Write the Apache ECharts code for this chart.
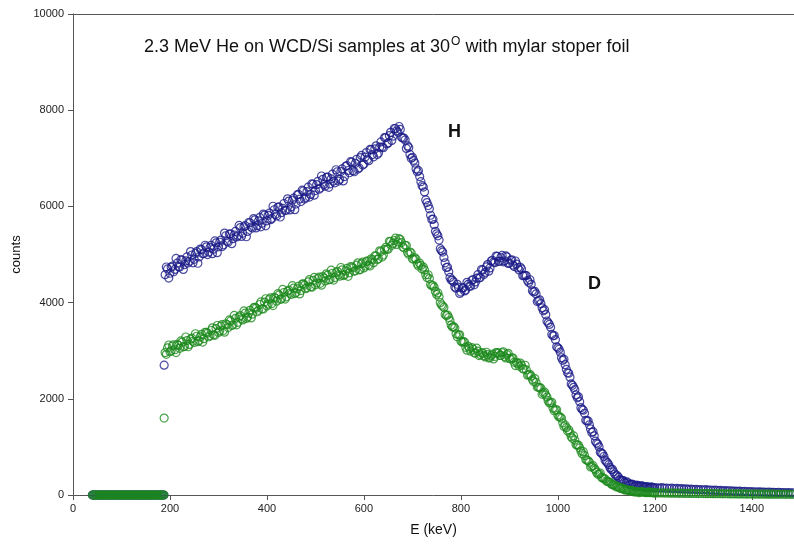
<!DOCTYPE html>
<html>
<head>
<meta charset="utf-8">
<script src="https://cdn.jsdelivr.net/npm/echarts@6/dist/echarts.min.js"></script>
<style>
  html, body { margin: 0; padding: 0; background: #fff; }
  #chart { width: 794px; height: 544px; }
</style>
</head>
<body>
<div id="chart"></div>
<script>
// energy channels (keV) below the threshold, both samples read 0 there
var lowEnergy = [40,42.5,45,47.5,50,52.5,55,57.5,60,62.5,65,67.5,70,72.5,75,77.5,80,82.5,85,87.5,
    90,92.5,95,97.5,100,102.5,105,107.5,110,112.5,115,117.5,120,122.5,125,127.5,130,132.5,135,137.5,
    140,142.5,145,147.5,150,152.5,155,157.5,160,162.5,165,167.5,170,172.5,175,177.5,180,182.5,185,187.5];
var lowBlue = [0,0,0,0,0,0,0,0,0,0,0,0,0,0,0,0,0,0,0,0,0,0,0,0,0,0,0,0,0,0,
    0,0,0,0,0,0,0,0,0,0,0,0,0,0,0,0,0,0,0,0,0,0,0,0,0,0,0,0,0,0];
var lowGreen = [0,0,0,0,0,0,0,0,0,0,0,0,0,0,0,0,0,0,0,0,0,0,0,0,0,0,0,0,0,0,
    0,0,0,0,0,0,0,0,0,0,0,0,0,0,0,0,0,0,0,0,0,0,0,0,0,0,0,0,0,0];

// energy channels (keV) of the spectrum
var energy = [188,
    190,195,200,205,210,215,220,225,230,235,240,245,250,255,260,265,270,275,280,285,
    290,295,300,305,310,315,320,325,330,335,340,345,350,355,360,365,370,375,380,385,
    390,395,400,405,410,415,420,425,430,435,440,445,450,455,460,465,470,475,480,485,
    490,495,500,505,510,515,520,525,530,535,540,545,550,555,560,565,570,575,580,585,
    590,595,600,605,610,615,620,625,630,635,640,645,650,655,660,665,670,675,680,685,
    690,695,700,705,710,715,720,725,730,735,740,745,750,755,760,765,770,775,780,785,
    790,795,800,805,810,815,820,825,830,835,840,845,850,855,860,865,870,875,880,885,
    890,895,900,905,910,915,920,925,930,935,940,945,950,955,960,965,970,975,980,985,
    990,995,1000,1005,1010,1015,1020,1025,1030,1035,1040,1045,1050,1055,1060,1065,1070,1075,1080,1085,
    1090,1095,1100,1105,1110,1115,1120,1125,1130,1135,1140,1145,1150,1155,1160,1165,1170,1175,1180,1185,
    1190,1195,1200,1205,1210,1215,1220,1225,1230,1235,1240,1245,1250,1255,1260,1265,1270,1275,1280,1285,
    1290,1295,1300,1305,1310,1315,1320,1325,1330,1335,1340,1345,1350,1355,1360,1365,1370,1375,1380,1385,
    1390,1395,1400,1405,1410,1415,1420,1425,1430,1435,1440,1445,1450,1455,1460,1465,1470,1475,1480,1485];

var blueCounts = [2700,
    4580,4700,4610,4760,4690,4820,4740,4880,4790,4950,4860,4990,4900,5060,4950,5100,5020,5160,5050,5190,
    5110,5240,5160,5300,5200,5390,5260,5430,5330,5480,5390,5560,5440,5600,5480,5660,5550,5720,5600,5770,
    5650,5820,5700,5860,5750,5930,5800,5990,5870,6060,5920,6110,5990,6170,6050,6250,6100,6320,6180,6400,
    6250,6460,6330,6520,6380,6560,6420,6610,6470,6670,6490,6720,6560,6780,6620,6850,6700,6920,6720,6980,
    6800,7060,6880,7120,6950,7180,7030,7260,7110,7340,7220,7430,7320,7540,7460,7620,7540,7600,7420,7380,
    7260,7080,7020,6900,6720,6620,6430,6300,6080,5950,5730,5620,5430,5300,5080,4940,4730,4640,4470,4430,
    4300,4320,4220,4310,4260,4380,4340,4480,4430,4580,4520,4680,4630,4790,4720,4880,4830,4960,4860,4980,
    4870,4950,4820,4890,4750,4800,4680,4700,4560,4560,4420,4380,4220,4180,4040,3980,3830,3750,3580,3490,
    3310,3230,3060,2970,2800,2710,2540,2450,2280,2190,2020,1940,1780,1700,1540,1460,1300,1230,1080,1000,
    870,800,690,630,530,480,400,370,310,300,250,250,220,215,190,195,175,180,165,170,
    155,160,150,150,145,152,140,146,135,142,130,136,128,132,122,128,118,124,114,118,
    108,114,104,110,100,104,96,100,92,96,86,90,84,88,80,82,76,80,72,76,
    68,72,66,68,62,66,60,62,56,60,54,56,50,54,48,50,46,48,44,46];

var greenCounts = [1600,
    2960,3060,2980,3100,3020,3130,3050,3180,3090,3210,3130,3260,3170,3300,3210,3340,3250,3380,3290,3420,
    3330,3460,3380,3510,3420,3560,3480,3620,3540,3670,3590,3730,3640,3780,3700,3840,3760,3900,3810,3960,
    3870,4010,3930,4070,3980,4110,4030,4160,4080,4210,4120,4260,4170,4300,4210,4340,4250,4390,4290,4430,
    4330,4460,4370,4500,4400,4540,4450,4570,4480,4610,4520,4650,4550,4680,4580,4710,4620,4740,4650,4780,
    4680,4810,4720,4850,4780,4910,4830,4970,4910,5060,4990,5150,5110,5270,5230,5340,5260,5310,5160,5190,
    5040,5050,4910,4930,4800,4820,4700,4680,4520,4500,4350,4320,4170,4120,3950,3900,3730,3690,3530,3500,
    3350,3330,3200,3190,3070,3090,2990,3030,2950,2990,2920,2950,2870,2920,2860,2930,2880,2960,2900,2960,
    2880,2920,2840,2850,2760,2760,2680,2700,2620,2600,2500,2470,2360,2340,2240,2220,2120,2080,1960,1920,
    1810,1770,1660,1620,1500,1450,1330,1290,1180,1140,1040,980,860,820,720,680,590,550,470,435,
    370,345,290,275,230,215,170,165,135,130,105,100,80,80,66,68,60,62,52,54,
    48,50,44,44,42,44,40,42,38,40,37,38,35,37,34,35,32,34,31,32,
    30,31,29,30,28,29,27,28,26,27,25,26,24,25,23,24,22,23,21,22,
    20,21,20,20,19,20,18,19,18,18,17,18,16,17,16,16,15,16,15,15];

// in-between channels (keV), 192.5 ... 1197.5
var energyHalf = [
    192.5,197.5,202.5,207.5,212.5,217.5,222.5,227.5,232.5,237.5,242.5,247.5,252.5,257.5,262.5,267.5,272.5,277.5,282.5,287.5,
    292.5,297.5,302.5,307.5,312.5,317.5,322.5,327.5,332.5,337.5,342.5,347.5,352.5,357.5,362.5,367.5,372.5,377.5,382.5,387.5,
    392.5,397.5,402.5,407.5,412.5,417.5,422.5,427.5,432.5,437.5,442.5,447.5,452.5,457.5,462.5,467.5,472.5,477.5,482.5,487.5,
    492.5,497.5,502.5,507.5,512.5,517.5,522.5,527.5,532.5,537.5,542.5,547.5,552.5,557.5,562.5,567.5,572.5,577.5,582.5,587.5,
    592.5,597.5,602.5,607.5,612.5,617.5,622.5,627.5,632.5,637.5,642.5,647.5,652.5,657.5,662.5,667.5,672.5,677.5,682.5,687.5,
    692.5,697.5,702.5,707.5,712.5,717.5,722.5,727.5,732.5,737.5,742.5,747.5,752.5,757.5,762.5,767.5,772.5,777.5,782.5,787.5,
    792.5,797.5,802.5,807.5,812.5,817.5,822.5,827.5,832.5,837.5,842.5,847.5,852.5,857.5,862.5,867.5,872.5,877.5,882.5,887.5,
    892.5,897.5,902.5,907.5,912.5,917.5,922.5,927.5,932.5,937.5,942.5,947.5,952.5,957.5,962.5,967.5,972.5,977.5,982.5,987.5,
    992.5,997.5,1002.5,1007.5,1012.5,1017.5,1022.5,1027.5,1032.5,1037.5,1042.5,1047.5,1052.5,1057.5,1062.5,1067.5,1072.5,1077.5,1082.5,1087.5,
    1092.5,1097.5,1102.5,1107.5,1112.5,1117.5,1122.5,1127.5,1132.5,1137.5,1142.5,1147.5,1152.5,1157.5,1162.5,1167.5,1172.5,1177.5,1182.5,1187.5,
    1192.5,1197.5];

var blueHalf = [
    4740,4510,4734,4641,4918,4745,4892,4689,4866,4823,5060,4827,5022,4818,5112,5018,5192,4998,5142,5018,
    5282,5038,5255,5165,5445,5275,5425,5225,5405,5365,5605,5375,5573,5369,5665,5571,5747,5553,5699,5575,
    5841,5597,5815,5724,6003,5832,5981,5780,5959,5918,6157,5926,6128,5933,6238,6153,6338,6153,6308,6193,
    6468,6233,6452,6357,6632,6457,6602,6397,6572,6527,6762,6527,6726,6530,6833,6746,6929,6742,6895,6778,
    7015,6859,7025,6975,7184,7078,7196,7077,7232,7233,7430,7298,7472,7371,7620,7571,7661,7437,7421,7206,
    7223,7000,6956,6783,6743,6513,6401,6134,6019,5816,5735,5481,5389,5122,5050,4827,4737,4524,4467,4322,
    4382,4190,4299,4242,4422,4342,4459,4371,4508,4512,4688,4586,4741,4653,4865,4843,4968,4856,4938,4848,
    4970,4815,4880,4780,4865,4725,4735,4560,4567,4458,4475,4245,4232,4023,4058,3892,3853,3617,3547,3338,
    3316,3082,3031,2853,2823,2613,2531,2309,2239,2081,2040,1816,1764,1552,1540,1372,1317,1119,1057,887,
    853,723,666,568,533,437,402,321,307,266,272,216,227,177,205,179,198,158,173,144,
    171,146];

var greenHalf = [
    2925,3119,2999,3124,2961,3110,3203,3080,3285,3082,3239,3196,3352,3188,3288,3180,3384,3364,3312,3476,
    3320,3524,3412,3543,3386,3541,3640,3523,3734,3537,3700,3663,3827,3672,3781,3682,3895,3884,3841,4014,
    3867,4080,3970,4098,3938,4090,4186,4066,4274,4074,4234,4194,4352,4188,4288,4180,4384,4364,4312,4476,
    4320,4524,4407,4529,4363,4509,4599,4473,4675,4469,4623,4577,4730,4562,4658,4546,4746,4722,4666,4826,
    4686,4840,4761,4869,4761,4887,4971,4898,5076,4948,5100,5112,5274,5191,5291,5210,5328,5248,5139,5187,
    5005,5032,4904,4901,4759,4773,4739,4577,4579,4377,4355,4233,4201,3999,3929,3755,3742,3622,3491,3473,
    3290,3330,3178,3177,3010,3050,3065,2955,3052,2898,2963,2897,2968,2847,2900,2830,2958,2947,2902,2978,
    2850,2945,2828,2847,2690,2730,2743,2627,2698,2492,2510,2400,2420,2245,2235,2095,2140,2035,1912,1928,
    1752,1770,1624,1596,1422,1400,1356,1210,1229,1047,1035,913,901,739,712,582,610,524,431,453,
    350,333,281,264,211,197,181,143,148,106,109,88,96,65,69,49,69,60,48,63,
    53,43];

var xTicks = [0, 1487, 200];   // min, max, interval
var yTicks = [0, 10000, 2000];

function pairs(xs, ys) {
    var out = [];
    for (var i = 0; i < xs.length; i++) {
        out.push([xs[i], ys[i]]);
    }
    return out;
}

var blueColor = '#1c1c88';
var greenColor = '#1d8a1d';
var axisColor = '#555';
var font = 'Liberation Sans, Arial, sans-serif';

var myChart = echarts.init(document.getElementById('chart'));
myChart.setOption({
    animation: false,
    backgroundColor: '#fff',
    title: {
        text: '{a|2.3 MeV He on WCD/Si samples at 30}{b|O}{a| with mylar stoper foil}',
        left: 139,
        top: 31,
        textStyle: {
            fontWeight: 'normal',
            rich: {
                a: { fontSize: 18, fontWeight: 'normal', fontFamily: font, color: '#111' },
                b: { fontSize: 12, fontWeight: 'normal', fontFamily: font, color: '#111', padding: [0, 0, 11, 1] }
            }
        }
    },
    grid: {
        left: 73,
        top: 14,
        right: 0,
        bottom: 49
    },
    xAxis: [{
        type: 'value',
        min: xTicks[0],
        max: xTicks[1],
        interval: xTicks[2],
        name: 'E (keV)',
        nameLocation: 'middle',
        nameGap: 28,
        nameTextStyle: { fontSize: 14, fontFamily: font, color: '#111' },
        axisLine: { show: true, lineStyle: { color: axisColor } },
        axisTick: { show: true, length: 5, lineStyle: { color: axisColor } },
        splitLine: { show: false },
        axisLabel: {
            fontSize: 11, fontFamily: font, color: '#222', margin: 8,
            showMaxLabel: false,
            formatter: function (v) { return String(v); }
        }
    }, {
        type: 'value',
        position: 'top',
        min: xTicks[0],
        max: xTicks[1],
        axisLine: { show: true, lineStyle: { color: axisColor } },
        axisTick: { show: false },
        axisLabel: { show: false },
        splitLine: { show: false }
    }],
    yAxis: {
        type: 'value',
        min: yTicks[0],
        max: yTicks[1],
        interval: yTicks[2],
        name: 'counts',
        nameLocation: 'middle',
        nameGap: 50,
        nameTextStyle: { fontSize: 13, fontFamily: font, color: '#111' },
        axisLine: { show: true, lineStyle: { color: axisColor } },
        axisTick: { show: true, length: 5, lineStyle: { color: axisColor } },
        splitLine: { show: false },
        axisLabel: {
            fontSize: 11, fontFamily: font, color: '#222', margin: 9,
            formatter: function (v) { return String(v); }
        }
    },
    graphic: [{
        type: 'text',
        left: 448,
        top: 123,
        style: { text: 'H', fontSize: 18, fontWeight: 'bold', fontFamily: font, fill: '#111' }
    }, {
        type: 'text',
        left: 588,
        top: 275,
        style: { text: 'D', fontSize: 18, fontWeight: 'bold', fontFamily: font, fill: '#111' }
    }],
    series: [{
        name: 'blue',
        type: 'scatter',
        symbol: 'circle',
        symbolSize: 8,
        emphasis: { disabled: true },
        itemStyle: { color: 'rgba(0,0,0,0)', borderColor: blueColor, borderWidth: 1.2 },
        data: pairs(lowEnergy, lowBlue).concat(pairs(energy, blueCounts), pairs(energyHalf, blueHalf))
    }, {
        name: 'green',
        type: 'scatter',
        symbol: 'circle',
        symbolSize: 8,
        emphasis: { disabled: true },
        itemStyle: { color: 'rgba(0,0,0,0)', borderColor: greenColor, borderWidth: 1.2 },
        data: pairs(lowEnergy, lowGreen).concat(pairs(energy, greenCounts), pairs(energyHalf, greenHalf))
    }]
});
</script>
</body>
</html>
